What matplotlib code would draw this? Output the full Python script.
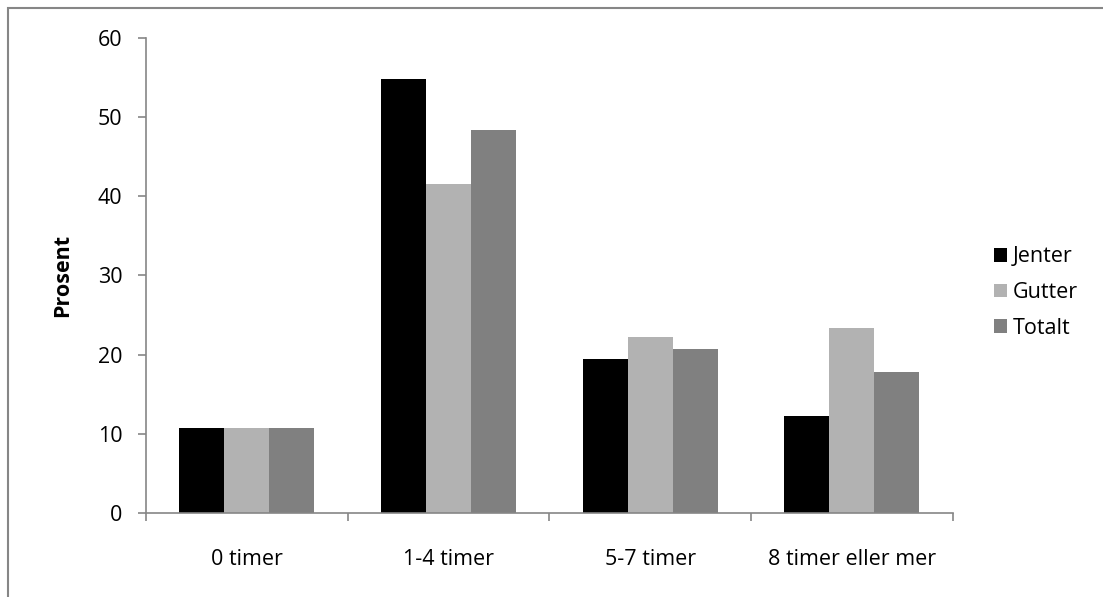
import matplotlib
matplotlib.use('Agg')
import matplotlib.pyplot as plt
import numpy as np
from matplotlib.patches import Rectangle

#data
categories = ['0 timer', '1-4 timer', '5-7 timer', '8 timer eller mer']
jenter = [10.7, 54.8, 19.4, 12.3]
gutter = [10.7, 41.5, 22.2, 23.4]
totalt = [10.7, 48.4, 20.7, 17.8]

plt.rcParams['font.family'] = ['Open Sans', 'DejaVu Sans']

fig = plt.figure(figsize=(11.03, 5.97), dpi=100)
ax = fig.add_axes([0.1324, 0.1407, 0.8636 - 0.1324, 0.9369 - 0.1407])

#frame around the chart (cut at the right and bottom)
fig.patches.append(Rectangle((8 / 1103, -0.1), 1.2, 1 - 8 / 597 + 0.1,
                             transform=fig.transFigure, fill=False,
                             edgecolor='#868686', linewidth=1.5))

x = np.arange(len(categories))
w = 0.223
ax.bar(x - w, jenter, w, color='black', label='Jenter')
ax.bar(x, gutter, w, color='#b2b2b2', label='Gutter')
ax.bar(x + w, totalt, w, color='#808080', label='Totalt')

ax.set_xlim(-0.5, len(categories) - 0.5)
ax.set_ylim(0, 60)
ax.set_yticks(range(0, 61, 10))
ax.set_xticks(x)
ax.set_xticklabels(categories)
ax.set_xticks(np.arange(-0.5, len(categories), 1), minor=True)

for s in ['top', 'right']:
    ax.spines[s].set_visible(False)
for s in ['left', 'bottom']:
    ax.spines[s].set_color('#868686')
    ax.spines[s].set_linewidth(1.2)

fs = 15.5
ax.tick_params(axis='y', direction='out', length=6, width=1.2, color='#868686',
               labelsize=fs, pad=11)
ax.tick_params(axis='x', which='major', length=0, labelsize=fs, pad=26)
ax.tick_params(axis='x', which='minor', direction='out', length=6, width=1.2,
               color='#868686')

ax.set_ylabel('Prosent', fontsize=fs, fontweight='bold', labelpad=18)

leg = ax.legend(loc='center left', bbox_to_anchor=(0.893, 0.51),
                bbox_transform=fig.transFigure, frameon=False, fontsize=fs,
                handlelength=0.6, handleheight=0.6, handletextpad=0.3,
                labelspacing=0.68, borderaxespad=0)

plt.savefig('out.png', dpi=100)
